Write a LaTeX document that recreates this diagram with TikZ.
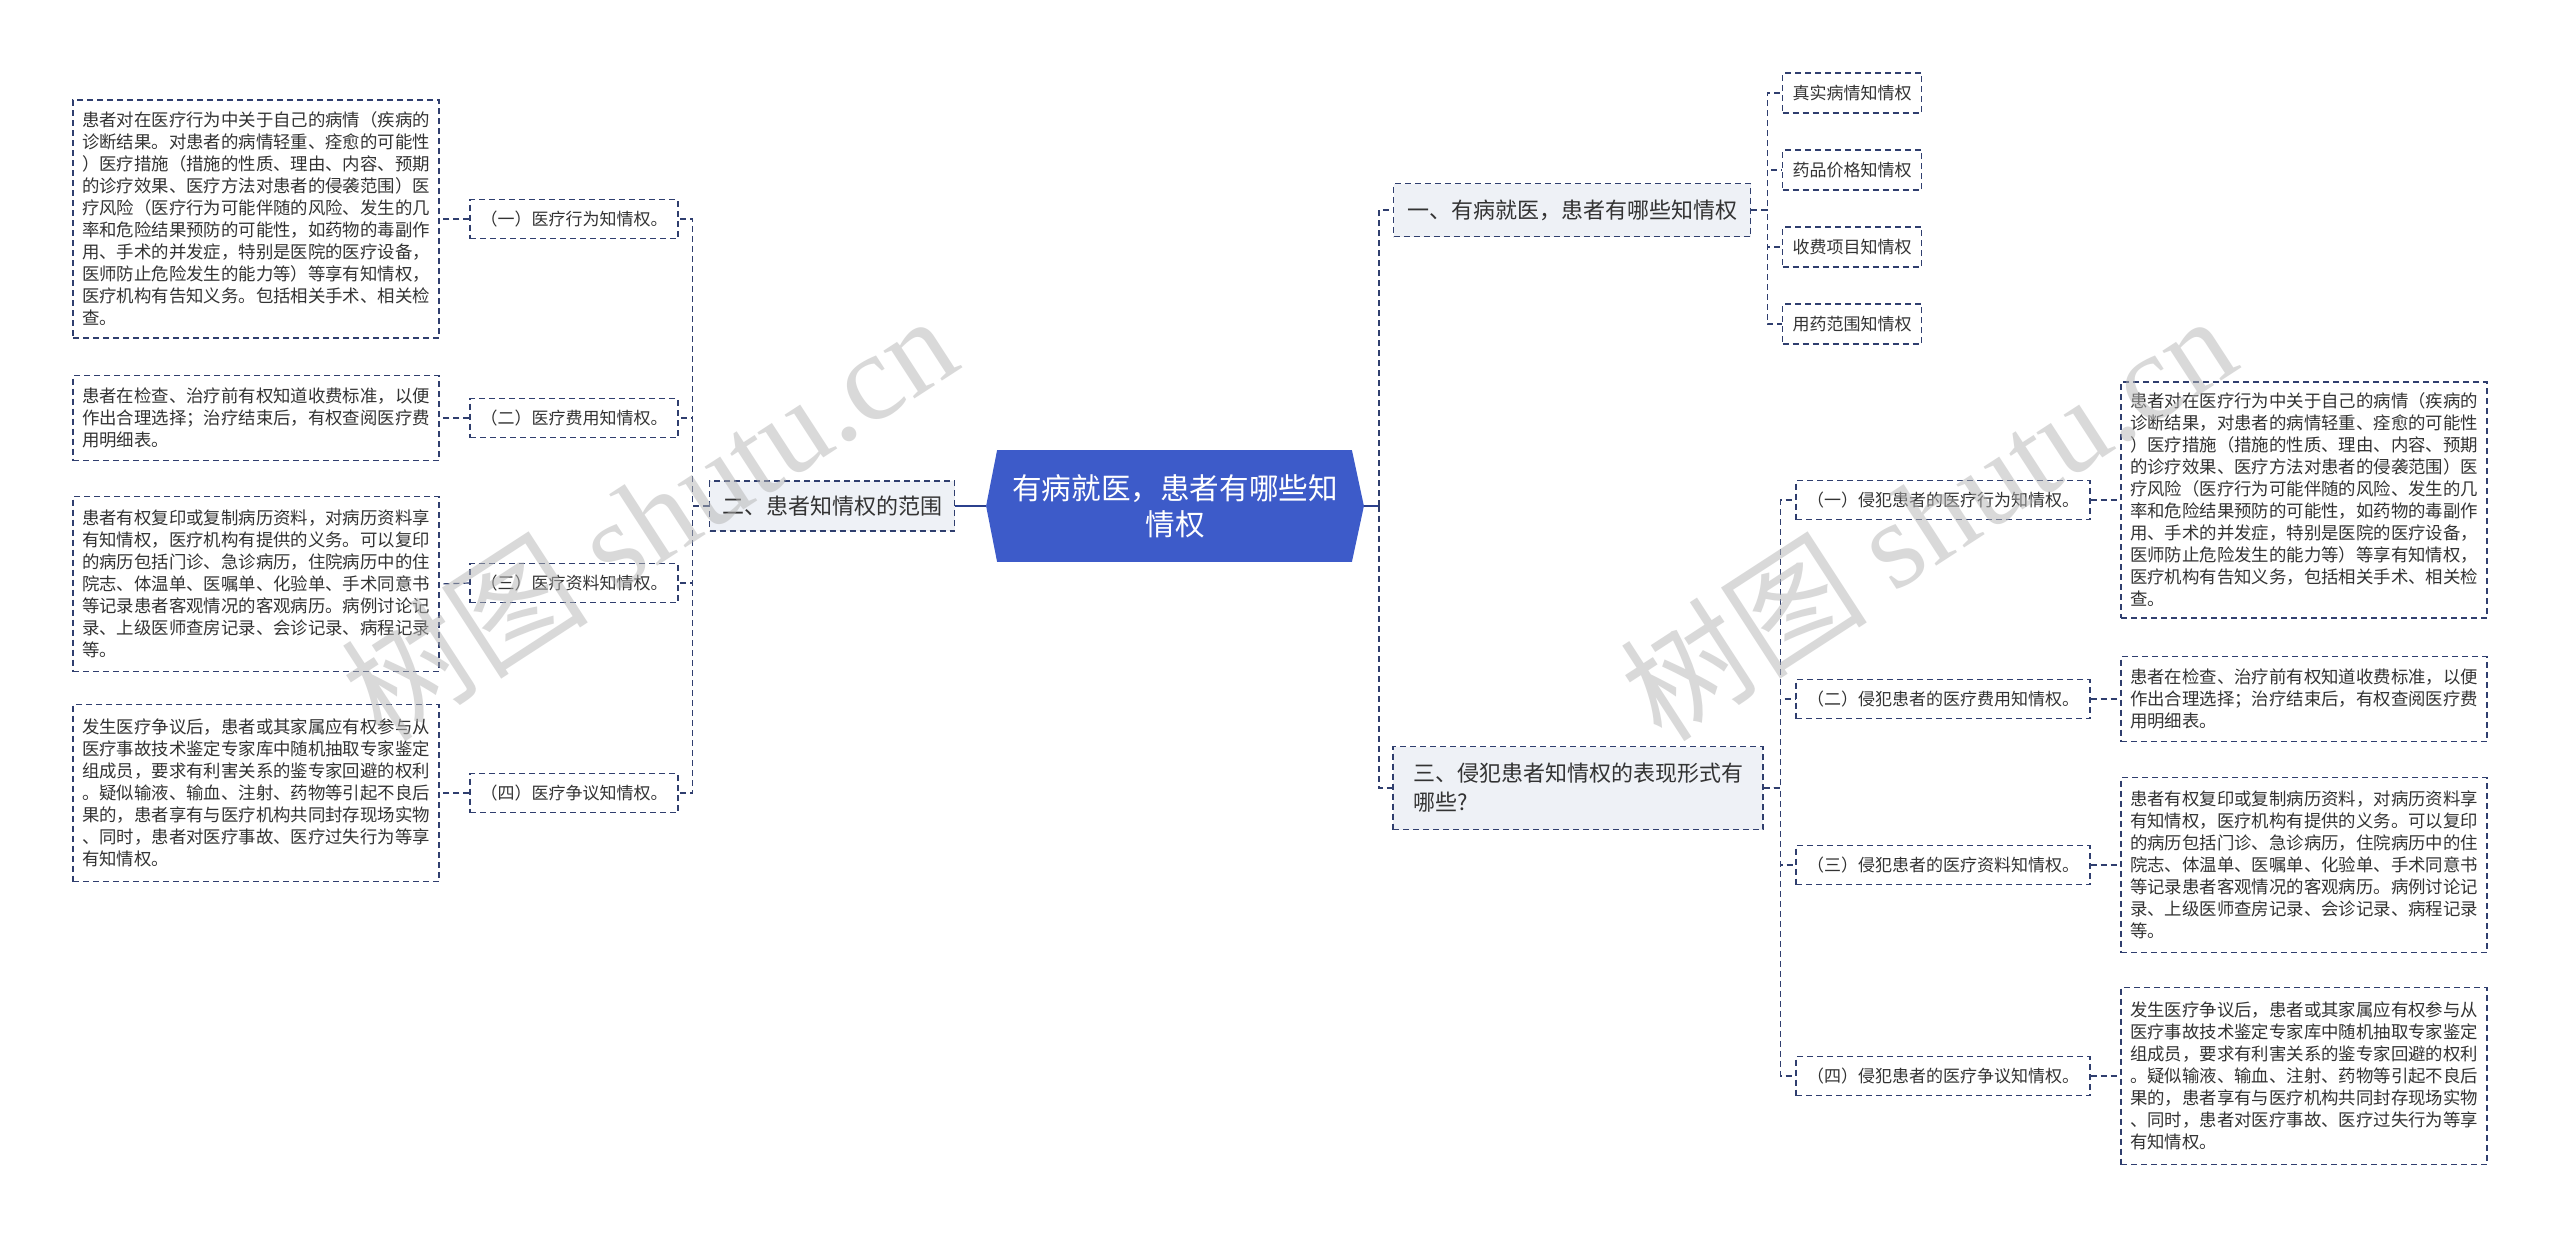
\documentclass[tikz,border=0pt]{standalone}
\usepackage{fontspec}
\setmainfont{Noto Sans CJK SC}
\newfontfamily\wmfont{Liberation Serif}
\usetikzlibrary{calc,backgrounds}
\definecolor{navy}{HTML}{2F3E6E}
\definecolor{txt}{HTML}{333333}
\definecolor{lvlfill}{HTML}{EEF1F6}
\definecolor{cblue}{HTML}{3D5BC9}
\definecolor{wmgray}{HTML}{B4B4B4}
\begin{document}
\begin{tikzpicture}[x=0.5pt,y=-0.5pt,
  box/.style={draw=navy, line width=0.7pt, dash pattern=on 3pt off 2pt, text=txt, inner sep=0pt},
  textbox/.style={box, fill=white, font=\fontsize{8.7pt}{11pt}\selectfont, align=left, minimum width=183pt, inner xsep=4.5pt, inner ysep=3pt},
  lbl/.style={box, fill=white, font=\fontsize{8.5pt}{10pt}\selectfont, minimum height=19.5pt, inner xsep=5pt},
  lone/.style={box, fill=lvlfill, font=\fontsize{11pt}{14.5pt}\selectfont, inner xsep=6pt},
  hexnode/.style={text=white, font=\fontsize{14.8pt}{18pt}\selectfont, align=center, minimum width=188.5pt, minimum height=55.5pt, inner sep=0pt},
  conn/.style={draw=navy, line width=0.6pt, dash pattern=on 3pt off 2pt},
  solidconn/.style={draw=cblue!70!black, line width=1pt},
  wm/.style={text=wmgray, opacity=0.5, rotate=33, font=\fontsize{62pt}{62pt}\selectfont, inner sep=0pt}
]
\useasboundingbox (0,0) rectangle (2560,1237);

% center
\node[hexnode] (c) at (1175,506) {有病就医，患者有哪些知\\情权};

% left branch
\node[lone, minimum width=122.5pt, minimum height=25pt] (n2) at (832,506) {二、患者知情权的范围};
\node[lbl, minimum width=104pt] (la) at (574,219) {（一）医疗行为知情权。};
\node[lbl, minimum width=104pt] (lb) at (574,418) {（二）医疗费用知情权。};
\node[lbl, minimum width=104pt] (lc) at (574,583) {（三）医疗资料知情权。};
\node[lbl, minimum width=104pt] (ld) at (574,793) {（四）医疗争议知情权。};

\node[textbox, minimum height=119pt] (ta) at (256,219) {患者对在医疗行为中关于自己的病情（疾病的\\诊断结果。对患者的病情轻重、痊愈的可能性\\）医疗措施（措施的性质、理由、内容、预期\\的诊疗效果、医疗方法对患者的侵袭范围）医\\疗风险（医疗行为可能伴随的风险、发生的几\\率和危险结果预防的可能性，如药物的毒副作\\用、手术的并发症，特别是医院的医疗设备，\\医师防止危险发生的能力等）等享有知情权，\\医疗机构有告知义务。包括相关手术、相关检\\查。};
\node[textbox, minimum height=42.5pt] (tb) at (256,418) {患者在检查、治疗前有权知道收费标准，以便\\作出合理选择；治疗结束后，有权查阅医疗费\\用明细表。};
\node[textbox, minimum height=87.5pt] (tc) at (256,584) {患者有权复印或复制病历资料，对病历资料享\\有知情权，医疗机构有提供的义务。可以复印\\的病历包括门诊、急诊病历，住院病历中的住\\院志、体温单、医嘱单、化验单、手术同意书\\等记录患者客观情况的客观病历。病例讨论记\\录、上级医师查房记录、会诊记录、病程记录\\等。};
\node[textbox, minimum height=88.5pt] (td) at (256,793) {发生医疗争议后，患者或其家属应有权参与从\\医疗事故技术鉴定专家库中随机抽取专家鉴定\\组成员，要求有利害关系的鉴专家回避的权利\\。疑似输液、输血、注射、药物等引起不良后\\果的，患者享有与医疗机构共同封存现场实物\\、同时，患者对医疗事故、医疗过失行为等享\\有知情权。};

% right branch
\node[lone, minimum width=178.5pt, minimum height=26.5pt] (n1) at (1572,210) {一、有病就医，患者有哪些知情权};
\node[lbl, minimum width=69.5pt, minimum height=20pt] (k1) at (1852,93) {真实病情知情权};
\node[lbl, minimum width=69.5pt, minimum height=20pt] (k2) at (1852,170) {药品价格知情权};
\node[lbl, minimum width=69.5pt, minimum height=20pt] (k3) at (1852,247) {收费项目知情权};
\node[lbl, minimum width=69.5pt, minimum height=20pt] (k4) at (1852,324) {用药范围知情权};

\node[lone, minimum width=185pt, minimum height=41.5pt, align=left] (n3) at (1578,788) {三、侵犯患者知情权的表现形式有\\哪些?};
\node[lbl, minimum width=147pt] (r1) at (1943,500) {（一）侵犯患者的医疗行为知情权。};
\node[lbl, minimum width=147pt] (r2) at (1943,699) {（二）侵犯患者的医疗费用知情权。};
\node[lbl, minimum width=147pt] (r3) at (1943,865) {（三）侵犯患者的医疗资料知情权。};
\node[lbl, minimum width=147pt] (r4) at (1943,1076) {（四）侵犯患者的医疗争议知情权。};

\node[textbox, minimum height=118pt] (ra) at (2304,500) {患者对在医疗行为中关于自己的病情（疾病的\\诊断结果，对患者的病情轻重、痊愈的可能性\\）医疗措施（措施的性质、理由、内容、预期\\的诊疗效果、医疗方法对患者的侵袭范围）医\\疗风险（医疗行为可能伴随的风险、发生的几\\率和危险结果预防的可能性，如药物的毒副作\\用、手术的并发症，特别是医院的医疗设备，\\医师防止危险发生的能力等）等享有知情权，\\医疗机构有告知义务，包括相关手术、相关检\\查。};
\node[textbox, minimum height=42.5pt] (rb) at (2304,699) {患者在检查、治疗前有权知道收费标准，以便\\作出合理选择；治疗结束后，有权查阅医疗费\\用明细表。};
\node[textbox, minimum height=87.5pt] (rc) at (2304,865) {患者有权复印或复制病历资料，对病历资料享\\有知情权，医疗机构有提供的义务。可以复印\\的病历包括门诊、急诊病历，住院病历中的住\\院志、体温单、医嘱单、化验单、手术同意书\\等记录患者客观情况的客观病历。病例讨论记\\录、上级医师查房记录、会诊记录、病程记录\\等。};
\node[textbox, minimum height=88.5pt] (rd) at (2304,1076) {发生医疗争议后，患者或其家属应有权参与从\\医疗事故技术鉴定专家库中随机抽取专家鉴定\\组成员，要求有利害关系的鉴专家回避的权利\\。疑似输液、输血、注射、药物等引起不良后\\果的，患者享有与医疗机构共同封存现场实物\\、同时，患者对医疗事故、医疗过失行为等享\\有知情权。};

% background: white page, hexagon, connectors
\begin{scope}[on background layer]
\fill[white] (0,0) rectangle (2560,1237);
\fill[cblue] (c.west) -- ($(c.north west)+(11,0)$) -- ($(c.north east)+(-12,0)$) -- (c.east) -- ($(c.south east)+(-12,0)$) -- ($(c.south west)+(11,0)$) -- cycle;
\draw[solidconn] (c.west) -- (n2.east);
\draw[solidconn] (c.east) -- ++(15,0) coordinate (rsp);
\draw[conn] (rsp) |- (n1.west);
\draw[conn] (rsp) |- (n3.west);
\foreach \t in {la,lb,lc,ld} \draw[conn] (n2.west) -- ++(-16,0) |- (\t.east);
\draw[conn] (la.west) -- (ta.east);
\draw[conn] (lb.west) -- (tb.east);
\draw[conn] (lc.west) -- (tc.east);
\draw[conn] (ld.west) -- (td.east);
\foreach \t in {k1,k2,k3,k4} \draw[conn] (n1.east) -- ++(16,0) |- (\t.west);
\foreach \t in {r1,r2,r3,r4} \draw[conn] (n3.east) -- ++(17,0) |- (\t.west);
\draw[conn] (r1.east) -- (ra.west);
\draw[conn] (r2.east) -- (rb.west);
\draw[conn] (r3.east) -- (rc.west);
\draw[conn] (r4.east) -- (rd.west);
\end{scope}

% watermark
\node[wm] (wm1) at (648,516) {树图 {\wmfont shutu.cn}};
\node[wm] (wm2) at (1927,516) {树图 {\wmfont shutu.cn}};
\end{tikzpicture}
\end{document}
